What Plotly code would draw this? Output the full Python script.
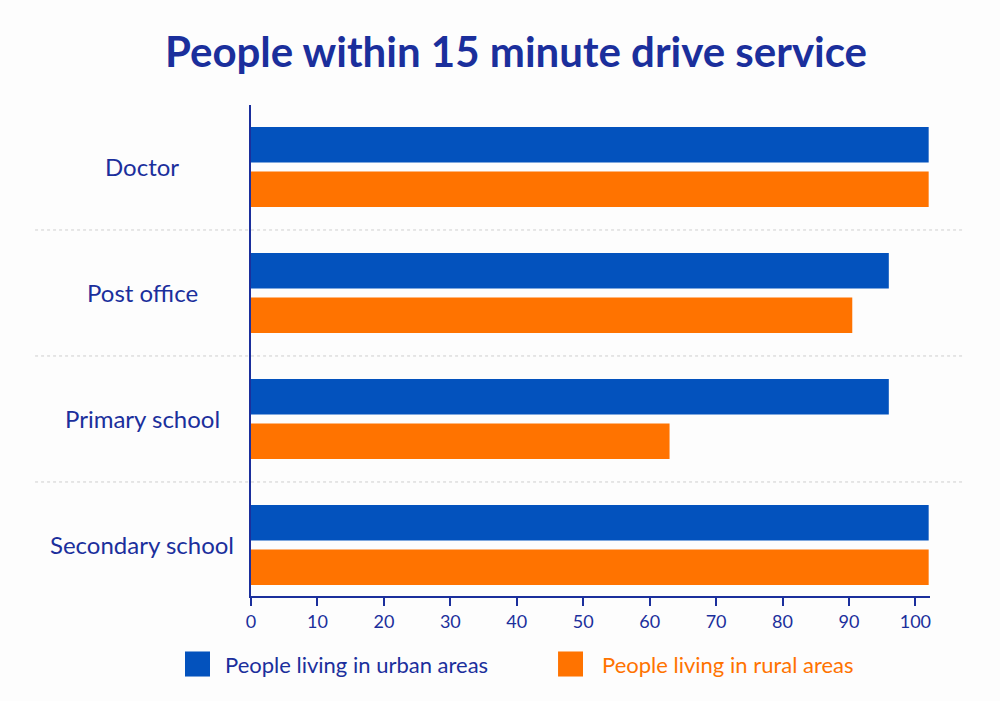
import plotly.graph_objs as go

# values (share of people, %)
services = ['Doctor', 'Post office', 'Primary school', 'Secondary school']
urban = [102, 96, 96, 102]
rural = [102, 90.5, 63, 102]
x_ticks = [0, 10, 20, 30, 40, 50, 60, 70, 80, 90, 100]
legend_names = ['People living in urban areas', 'People living in rural areas']

NAVY = '#1b2f9c'
BLUE = '#0352bd'
ORANGE = '#ff7300'
FONT = 'Lato'


def create_plot():
    fig = go.Figure()
    fig.add_bar(y=services, x=urban, orientation='h', name=legend_names[0],
                marker=dict(color=BLUE, line=dict(width=0)))
    fig.add_bar(y=services, x=rural, orientation='h', name=legend_names[1],
                marker=dict(color=ORANGE, line=dict(width=0)))

    # dashed separators between the service groups
    for i in range(len(services) - 1):
        fig.add_shape(type='line', xref='paper', yref='y',
                      x0=-0.318, x1=1.05, y0=i + 0.5, y1=i + 0.5,
                      line=dict(color='#cfcfcf', width=1, dash='dot'))

    # category labels, centred to the left of the axis
    for s in services:
        fig.add_annotation(text=s, xref='paper', yref='y', x=-0.16, y=s,
                           xanchor='center', yanchor='middle', showarrow=False,
                           font=dict(family=FONT, size=24, color=NAVY))

    # legend drawn by hand so the swatches can be large
    legend = [(legend_names[0], BLUE, NAVY, -0.0972, 0.0559),
              (legend_names[1], ORANGE, ORANGE, 0.4522, 0.0618)]
    for name, fill, text_color, x0, dx in legend:
        fig.add_shape(type='rect', xref='paper', yref='paper',
                      x0=x0, x1=x0 + 0.0368, y0=-0.113, y1=-0.164,
                      fillcolor=fill, line=dict(width=0), layer='above')
        fig.add_annotation(text=name, xref='paper', yref='paper', x=x0 + dx, y=-0.139,
                           xanchor='left', yanchor='middle', showarrow=False,
                           font=dict(family=FONT, size=22, color=text_color))

    fig.update_layout(
        width=1000, height=701,
        margin=dict(l=251, r=70, t=105, b=105),
        paper_bgcolor='#fdfdfd', plot_bgcolor='#fdfdfd',
        barmode='group', bargap=0.294, bargroupgap=0.2,
        showlegend=False,
        title=dict(text='<b>People within 15 minute drive service</b>',
                   x=0.516, xanchor='center', y=0.926, yanchor='middle',
                   font=dict(family=FONT, size=42, color=NAVY)),
        xaxis=dict(range=[0, 102.2], tickvals=x_ticks, showgrid=False, zeroline=False,
                   showline=True, linecolor=NAVY, linewidth=2,
                   ticks='outside', ticklen=8, tickwidth=1.5, tickcolor=NAVY,
                   tickfont=dict(family=FONT, size=18, color=NAVY)),
        yaxis=dict(categoryorder='array', categoryarray=services,
                   range=[3.405, -0.492], showticklabels=False, showgrid=False,
                   zeroline=False, showline=True, linecolor=NAVY, linewidth=2, ticks=''),
    )
    return fig


fig = create_plot()
# drop the page margin so the 1000x701 figure fills the window exactly
fig.write_html("out.html", config={'displayModeBar': False},
               post_script="document.body.style.margin='0';")
